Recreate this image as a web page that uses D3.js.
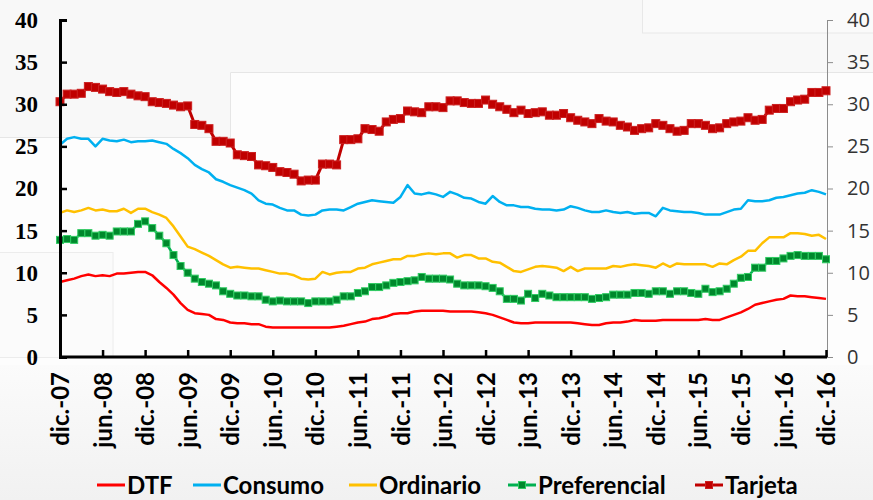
<!DOCTYPE html>
<html>
<head>
<meta charset="utf-8">
<script src="https://cdn.jsdelivr.net/npm/d3@7"></script>
<style>
  body { margin: 0; background: #f7f7f7; }
  svg { display: block; }
</style>
</head>
<body>
<div id="chart"></div>
<script>
// monthly series, dic-07 .. dic-16 (109 points)
var dtf = [8.9,9.1,9.3,9.6,9.8,9.6,9.7,9.6,9.9,9.9,10.0,10.1,10.1,9.7,8.9,8.2,7.4,6.4,5.6,5.2,5.1,5.0,4.5,4.4,4.1,4.0,4.0,3.9,3.9,3.6,3.5,3.5,3.5,3.5,3.5,3.5,3.5,3.5,3.5,3.6,3.7,3.9,4.1,4.2,4.5,4.6,4.8,5.1,5.2,5.2,5.4,5.5,5.5,5.5,5.5,5.4,5.4,5.4,5.4,5.3,5.2,5.0,4.7,4.4,4.1,4.0,4.0,4.1,4.1,4.1,4.1,4.1,4.1,4.0,3.9,3.8,3.8,4.0,4.1,4.1,4.2,4.4,4.3,4.3,4.3,4.4,4.4,4.4,4.4,4.4,4.4,4.5,4.4,4.4,4.7,5.0,5.3,5.7,6.2,6.4,6.6,6.8,6.9,7.3,7.2,7.2,7.1,7.0,6.9];
var consumo = [25.2,25.9,26.1,25.9,25.9,25.0,25.9,25.7,25.6,25.8,25.5,25.6,25.6,25.7,25.5,25.3,24.7,24.2,23.6,22.8,22.3,21.9,21.1,20.8,20.4,20.1,19.8,19.4,18.6,18.2,18.1,17.7,17.4,17.4,16.9,16.8,16.9,17.4,17.5,17.5,17.4,17.8,18.2,18.4,18.6,18.5,18.4,18.3,19.0,20.4,19.4,19.3,19.5,19.3,19.0,19.6,19.3,18.9,18.8,18.4,18.2,19.1,18.4,18.0,18.0,17.8,17.8,17.6,17.5,17.5,17.4,17.5,17.9,17.7,17.4,17.2,17.2,17.4,17.2,17.1,17.2,17.0,17.1,17.1,16.7,17.7,17.4,17.3,17.2,17.2,17.1,16.9,16.9,16.9,17.2,17.5,17.6,18.6,18.5,18.5,18.6,18.9,19.0,19.2,19.4,19.5,19.8,19.6,19.3];
var ordinario = [17.1,17.4,17.2,17.4,17.7,17.4,17.5,17.3,17.3,17.6,17.1,17.6,17.6,17.2,16.9,16.5,15.5,14.3,13.1,12.8,12.4,12.0,11.5,11.0,10.6,10.7,10.6,10.5,10.5,10.3,10.1,9.9,9.9,9.7,9.3,9.2,9.3,10.1,9.8,10.0,10.1,10.1,10.5,10.6,11.0,11.2,11.4,11.6,11.6,12.0,12.0,12.2,12.3,12.2,12.3,12.3,11.8,12.1,12.1,11.7,11.7,11.3,11.2,10.7,10.2,10.1,10.4,10.7,10.8,10.7,10.6,10.2,10.7,10.2,10.5,10.5,10.5,10.5,10.8,10.7,10.9,11.0,10.9,10.8,10.6,11.1,10.7,11.1,11.0,11.0,11.0,11.0,10.7,11.1,11.0,11.5,11.9,12.6,12.6,13.5,14.2,14.2,14.2,14.7,14.7,14.6,14.4,14.5,14.0];
var preferencial = [13.9,14.0,13.9,14.7,14.7,14.4,14.5,14.4,14.9,14.9,14.9,15.8,16.1,15.3,14.4,13.5,12.1,10.8,10.0,9.3,8.9,8.7,8.5,7.8,7.5,7.3,7.3,7.2,7.2,6.8,6.6,6.7,6.6,6.6,6.6,6.4,6.6,6.6,6.6,6.8,7.2,7.2,7.6,7.8,8.3,8.3,8.5,8.8,8.9,9.0,9.1,9.5,9.3,9.3,9.3,9.2,8.7,8.5,8.5,8.5,8.4,8.2,7.8,6.9,6.9,6.7,7.5,7.0,7.5,7.3,7.1,7.1,7.1,7.1,7.1,6.9,7.0,7.1,7.4,7.4,7.4,7.6,7.6,7.5,7.8,7.8,7.5,7.8,7.8,7.6,7.5,8.1,7.7,7.8,8.1,8.7,9.4,9.5,10.6,10.6,11.4,11.4,11.7,12.0,12.1,12.0,12.0,12.0,11.6];
var tarjeta = [30.3,31.2,31.2,31.3,32.1,32.0,31.8,31.5,31.4,31.5,31.2,31.0,30.9,30.3,30.2,30.1,29.9,29.7,29.8,27.6,27.5,27.1,25.6,25.6,25.4,24.0,23.9,23.8,22.8,22.7,22.5,22.0,21.9,21.7,20.9,21.0,21.0,22.9,22.9,22.8,25.8,25.8,25.9,27.1,27.0,26.8,27.9,28.2,28.3,29.2,29.1,29.0,29.7,29.7,29.6,30.4,30.4,30.2,30.1,30.1,30.5,30.0,29.7,29.4,29.0,29.3,28.9,29.0,29.1,28.7,28.7,28.9,28.4,28.1,27.9,27.7,28.3,28.0,27.9,27.5,27.3,26.9,27.1,27.2,27.7,27.5,27.1,26.8,26.9,27.7,27.7,27.5,27.1,27.2,27.7,27.9,28.0,28.4,28.1,28.2,29.3,29.5,29.5,30.3,30.5,30.6,31.4,31.4,31.6];

var tickLabels = ["dic.-07","jun.-08","dic.-08","jun.-09","dic.-09","jun.-10","dic.-10","jun.-11","dic.-11","jun.-12","dic.-12","jun.-13","dic.-13","jun.-14","dic.-14","jun.-15","dic.-15","jun.-16","dic.-16"];
var yTicks = [0,5,10,15,20,25,30,35,40];

var series = [
  {name: "DTF", values: dtf, color: "#FF0000", width: 2.5},
  {name: "Consumo", values: consumo, color: "#00B0F0", width: 2.5},
  {name: "Ordinario", values: ordinario, color: "#FFC000", width: 2.5},
  {name: "Preferencial", values: preferencial, color: "#00B050", width: 2.5, marker: "#00882C", mstroke: "#2FCB62", msize: 7},
  {name: "Tarjeta", values: tarjeta, color: "#C00000", width: 3, marker: "#C00000", mstroke: "#CC2020", msize: 8}
];

var W = 873, H = 500;
var mLeft = 60, mRight = 826, mTop = 20, mBottom = 357;

var svg = d3.select("#chart").append("svg")
  .attr("width", W).attr("height", H);

// faint background panels
svg.append("rect").attr("x",0).attr("y",0).attr("width",W).attr("height",H).attr("fill","#f8f8f8");
svg.append("rect").attr("x",230).attr("y",72).attr("width",W-230).attr("height",293).attr("fill","#fdfdfd");
svg.append("rect").attr("x",0).attr("y",137).attr("width",230).attr("height",228).attr("fill","#fdfdfd");
svg.append("path").attr("d","M0,137.5H230.5V72.5H873").attr("fill","none").attr("stroke","#e6e6e6");
svg.append("rect").attr("x",642.5).attr("y",-1).attr("width",240).attr("height",34).attr("fill","#fafafa").attr("stroke","#e8e8e8");
svg.append("rect").attr("x",-1).attr("y",252.5).attr("width",114).attr("height",105).attr("fill","#fbfbfb").attr("stroke","#ececec");
var grad = svg.append("defs").append("linearGradient").attr("id","bg").attr("x1",0).attr("y1",0).attr("x2",0).attr("y2",1);
grad.append("stop").attr("offset","0").attr("stop-color","#fbfbfb");
grad.append("stop").attr("offset","1").attr("stop-color","#f1f1f1");
svg.append("rect").attr("x",0).attr("y",365).attr("width",W).attr("height",135).attr("fill","url(#bg)");

var x = d3.scaleLinear().domain([0, dtf.length - 1]).range([mLeft, mRight]);
var y = d3.scaleLinear().domain([0, 40]).range([mBottom, mTop]);

// right axis (gray)
var yR = svg.append("g")
  .attr("transform", "translate(" + (mRight + 1) + ",0)")
  .call(d3.axisRight(y).tickValues(yTicks).tickSize(6).tickPadding(14));
yR.select(".domain").attr("stroke", "#8c8c8c");
yR.selectAll(".tick line").attr("stroke", "#8c8c8c");
yR.selectAll("text")
  .attr("fill", "#333")
  .style("font-family", "'Open Sans', sans-serif")
  .style("font-size", "20px");

// lines
var line = d3.line()
  .x(function(d, i){ return x(i); })
  .y(function(d){ return y(d); });

series.forEach(function(s){
  svg.append("path")
    .datum(s.values)
    .attr("d", line)
    .attr("fill", "none")
    .attr("stroke", s.color)
    .attr("stroke-width", s.width)
    .attr("stroke-linejoin", "round");
  if (s.marker) {
    svg.selectAll(".m-" + s.name)
      .data(s.values).enter().append("rect")
        .attr("class", "m-" + s.name)
        .attr("x", function(d, i){ return x(i) - s.msize / 2; })
        .attr("y", function(d){ return y(d) - s.msize / 2; })
        .attr("width", s.msize)
        .attr("height", s.msize)
        .attr("fill", s.marker)
        .attr("stroke", s.mstroke)
        .attr("stroke-width", 1);
  }
});

// left axis
var yL = svg.append("g")
  .attr("transform", "translate(" + mLeft + ",0)")
  .call(d3.axisLeft(y).tickValues(yTicks).tickSize(-7).tickPadding(22));
yL.select(".domain").attr("stroke", "#000").attr("stroke-width", 3);
yL.selectAll(".tick line").attr("stroke", "#000").attr("stroke-width", 2.5);
yL.selectAll("text")
  .attr("fill", "#000")
  .style("font-family", "'Liberation Serif', serif")
  .style("font-weight", "bold")
  .style("font-size", "23px");

// bottom axis
var xA = svg.append("g")
  .attr("transform", "translate(0," + mBottom + ")")
  .call(d3.axisBottom(x)
    .tickValues(d3.range(0, dtf.length, 6))
    .tickFormat(function(d, i){ return tickLabels[i]; })
    .tickSize(-7).tickSizeOuter(0));
xA.select(".domain").attr("stroke", "#000").attr("stroke-width", 3)
  .attr("d", "M" + mLeft + ",0H" + (mRight + 1));
xA.selectAll(".tick line").attr("stroke", "#000").attr("stroke-width", 2.5);
xA.selectAll("text")
  .attr("transform", "rotate(-90)")
  .attr("x", -15)
  .attr("y", 0)
  .attr("dy", "0.36em")
  .attr("text-anchor", "end")
  .attr("fill", "#000")
  .style("font-family", "Lato, sans-serif")
  .style("font-weight", "bold")
  .style("font-size", "24px");

// legend
var legendX = [97, 193, 349, 508, 695];
var lg = svg.append("g").attr("transform", "translate(0,485)");
series.forEach(function(s, i){
  var g = lg.append("g").attr("transform", "translate(" + legendX[i] + ",0)");
  g.append("line").attr("x1", 0).attr("x2", 28).attr("y1", 0).attr("y2", 0)
    .attr("stroke", s.color).attr("stroke-width", 3);
  if (s.marker) {
    g.append("rect").attr("x", 14 - 3.5).attr("y", -3.5).attr("width", 7).attr("height", 7)
      .attr("fill", s.marker).attr("stroke", s.mstroke).attr("stroke-width", 1);
  }
  g.append("text").attr("x", 30).attr("y", 0).attr("dy", "0.36em")
    .attr("fill", "#000")
    .style("font-family", "Lato, sans-serif")
    .style("font-weight", "bold")
    .style("font-size", "24px")
    .text(s.name);
});
</script>
</body>
</html>
